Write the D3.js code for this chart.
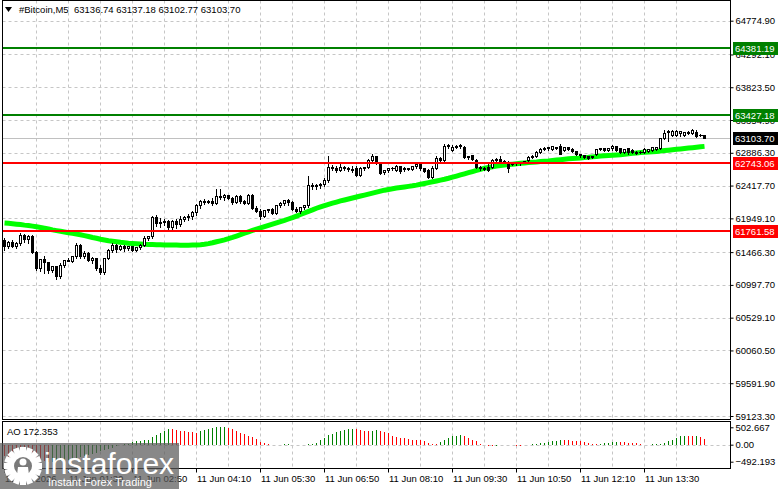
<!DOCTYPE html>
<html lang='en'>
<head>
	<meta charset='utf-8'>
	<script src='https://d3js.org/d3.v7.min.js'></script>
	<style>
		body {
			margin: 0;
			background: #fff;
		}

		svg {
			display: block;
			font-family: 'Liberation Sans', Arial, sans-serif;
		}
	</style>
</head>
<body>
	<svg id='chart' width='781' height='489'></svg>

	<script>
		// #Bitcoin M5 candles, 176 bars from 00:10
		var opens = [
			61639, 61554, 61611, 61554, 61596, 61711, 61653, 61696, 61468, 61239,
			61368, 61325, 61210, 61268, 61125, 61282, 61353, 61339, 61411, 61568,
			61411, 61453, 61353, 61382, 61239, 61182, 61382, 61496, 61568, 61511,
			61554, 61525, 61554, 61496, 61539, 61568, 61668, 61696, 61968, 61882,
			61897, 61911, 61825, 61911, 61868, 61940, 61968, 61982, 62040, 62140,
			62197, 62183, 62197, 62168, 62268, 62254, 62283, 62240, 62183, 62268,
			62197, 62168, 62283, 62097, 62054, 61982, 62068, 62083, 62025, 62140,
			62168, 62211, 62183, 62083, 62054, 62111, 62140, 62426, 62411, 62426,
			62440, 62497, 62683, 62669, 62640, 62683, 62669, 62655, 62669, 62569,
			62669, 62683, 62783, 62840, 62740, 62612, 62640, 62669, 62640, 62698,
			62655, 62669, 62655, 62698, 62726, 62669, 62640, 62540, 62669, 62812,
			62783, 62983, 62926, 62969, 62983, 62969, 62826, 62855, 62783, 62683,
			62669, 62683, 62683, 62783, 62797, 62769, 62740, 62740, 62740, 62740,
			62755, 62783, 62826, 62840, 62898, 62940, 62955, 62940, 62969, 62983,
			62926, 62969, 62940, 62912, 62869, 62855, 62840, 62826, 62869, 62940,
			62955, 62926, 62955, 62983, 62955, 62898, 62955, 62926, 62898, 62898,
			62898, 62912, 62926, 62940, 62955, 63098, 63183, 63141, 63141, 63169,
			63141, 63183, 63169, 63183, 63141, 63136.74
		];
		var highs = [
			61682, 61639, 61653, 61625, 61754, 61739, 61725, 61725, 61496, 61368,
			61425, 61325, 61268, 61282, 61325, 61353, 61396, 61411, 61611, 61596,
			61496, 61482, 61411, 61396, 61296, 61396, 61525, 61611, 61596, 61582,
			61582, 61568, 61568, 61554, 61596, 61711, 61696, 61997, 62011, 61968,
			61954, 61940, 61940, 61954, 61997, 61997, 62025, 62068, 62168, 62225,
			62240, 62225, 62254, 62383, 62383, 62311, 62297, 62268, 62297, 62297,
			62225, 62311, 62311, 62140, 62097, 62068, 62097, 62111, 62140, 62197,
			62225, 62240, 62211, 62125, 62125, 62154, 62569, 62469, 62454, 62469,
			62540, 62855, 62726, 62712, 62755, 62712, 62698, 62712, 62712, 62698,
			62698, 62812, 62883, 62855, 62755, 62655, 62683, 62698, 62726, 62712,
			62698, 62683, 62712, 62740, 62740, 62683, 62669, 62712, 62855, 62840,
			63026, 63026, 63012, 63012, 63026, 62998, 62855, 62869, 62812, 62712,
			62698, 62740, 62812, 62826, 62855, 62797, 62783, 62769, 62755, 62769,
			62783, 62855, 62869, 62926, 62969, 62983, 62983, 62998, 62983, 63026,
			62983, 62983, 62969, 62926, 62883, 62869, 62855, 62855, 62955, 62969,
			62969, 62969, 63012, 62998, 62969, 62955, 62969, 62955, 62926, 62926,
			62969, 62955, 62983, 62983, 63112, 63226, 63226, 63226, 63226, 63212,
			63198, 63212, 63240, 63226, 63169, 63137.18
		];
		var lows = [
			61496, 61525, 61539, 61525, 61568, 61611, 61596, 61453, 61210, 61196,
			61167, 61167, 61182, 61082, 61096, 61253, 61339, 61325, 61382, 61382,
			61382, 61339, 61310, 61210, 61153, 61153, 61368, 61468, 61468, 61496,
			61482, 61496, 61482, 61482, 61511, 61554, 61639, 61668, 61839, 61825,
			61854, 61782, 61796, 61811, 61839, 61911, 61925, 61940, 61997, 62097,
			62154, 62168, 62140, 62154, 62225, 62211, 62225, 62154, 62168, 62168,
			62154, 62154, 62083, 62040, 61940, 61968, 62040, 62011, 62011, 62111,
			62140, 62140, 62068, 62040, 62025, 62083, 62111, 62369, 62369, 62383,
			62411, 62469, 62640, 62612, 62626, 62640, 62626, 62612, 62554, 62554,
			62640, 62669, 62769, 62726, 62583, 62583, 62612, 62640, 62626, 62597,
			62626, 62640, 62640, 62669, 62640, 62612, 62526, 62526, 62655, 62755,
			62769, 62955, 62912, 62955, 62955, 62812, 62797, 62783, 62669, 62640,
			62640, 62626, 62669, 62755, 62740, 62740, 62612, 62712, 62712, 62712,
			62740, 62769, 62812, 62826, 62883, 62926, 62926, 62926, 62940, 62869,
			62912, 62926, 62898, 62855, 62826, 62812, 62797, 62812, 62855, 62926,
			62912, 62912, 62926, 62912, 62883, 62883, 62869, 62883, 62869, 62883,
			62883, 62898, 62912, 62926, 62940, 63083, 63055, 63126, 63126, 63126,
			63126, 63155, 63155, 63112, 63126, 63102.77
		];
		var closes = [
			61554, 61611, 61554, 61596, 61711, 61653, 61696, 61468, 61239, 61368,
			61325, 61210, 61268, 61125, 61282, 61353, 61339, 61411, 61568, 61411,
			61453, 61353, 61382, 61239, 61182, 61382, 61496, 61568, 61511, 61554,
			61525, 61554, 61496, 61539, 61568, 61668, 61696, 61968, 61882, 61897,
			61911, 61825, 61911, 61868, 61940, 61968, 61982, 62040, 62140, 62197,
			62183, 62197, 62168, 62268, 62254, 62283, 62240, 62183, 62268, 62197,
			62168, 62283, 62097, 62054, 61982, 62068, 62083, 62025, 62140, 62168,
			62211, 62183, 62083, 62054, 62111, 62140, 62426, 62411, 62426, 62440,
			62497, 62683, 62669, 62640, 62683, 62669, 62655, 62640, 62569, 62669,
			62683, 62783, 62840, 62740, 62597, 62640, 62669, 62669, 62698, 62626,
			62669, 62655, 62698, 62726, 62669, 62626, 62540, 62669, 62812, 62783,
			62983, 62998, 62969, 62983, 62998, 62826, 62840, 62797, 62683, 62669,
			62655, 62640, 62783, 62797, 62769, 62755, 62669, 62726, 62740, 62755,
			62769, 62826, 62840, 62898, 62940, 62955, 62969, 62983, 62955, 62869,
			62969, 62940, 62912, 62869, 62855, 62826, 62812, 62840, 62940, 62955,
			62926, 62955, 62983, 62926, 62898, 62940, 62898, 62898, 62883, 62898,
			62940, 62940, 62969, 62969, 63098, 63169, 63198, 63198, 63198, 63198,
			63183, 63169, 63212, 63126, 63141, 63103.70
		];

		// moving average (lime line)
		var maValues = [
			61882, 61878, 61872, 61866, 61860, 61852, 61846, 61838, 61828, 61818,
			61808, 61796, 61784, 61774, 61764, 61754, 61744, 61734, 61724, 61714,
			61702, 61690, 61676, 61664, 61650, 61640, 61630, 61622, 61614, 61606,
			61600, 61594, 61590, 61586, 61582, 61578, 61576, 61574, 61572, 61570,
			61568, 61568, 61567, 61567, 61566, 61566, 61566, 61567, 61568, 61572,
			61578, 61588, 61600, 61614, 61628, 61642, 61658, 61676, 61696, 61716,
			61736, 61756, 61776, 61794, 61812, 61830, 61848, 61866, 61884, 61902,
			61920, 61940, 61960, 61982, 62004, 62026, 62048, 62070, 62094, 62114,
			62132, 62150, 62166, 62182, 62198, 62212, 62226, 62240, 62254, 62268,
			62282, 62296, 62310, 62324, 62338, 62352, 62362, 62372, 62382, 62390,
			62398, 62406, 62414, 62424, 62436, 62448, 62460, 62472, 62484, 62496,
			62508, 62522, 62538, 62554, 62570, 62586, 62602, 62618, 62634, 62650,
			62666, 62676, 62686, 62696, 62704, 62712, 62718, 62724, 62730, 62736,
			62742, 62748, 62752, 62756, 62762, 62766, 62770, 62776, 62782, 62788,
			62794, 62800, 62804, 62808, 62812, 62818, 62822, 62828, 62834, 62840,
			62844, 62848, 62852, 62856, 62860, 62866, 62872, 62878, 62884, 62890,
			62894, 62898, 62902, 62906, 62912, 62918, 62924, 62930, 62936, 62942,
			62948, 62954, 62960, 62966, 62972, 62978
		];

		// Awesome Oscillator
		var aoValues = [
			-330, -350, -370, -385, -400, -415, -430, -445, -460, -472,
			-484, -492.193, -488, -478, -465, -448, -430, -408, -385, -360,
			-332, -300, -268, -232, -196, -158, -120, -82, -45, -10,
			28, 32, 65, 95, 98, 125, 145, 235, 285, 350,
			410, 460, 440, 420, 400, 385, 372, 360, 352, 385,
			425, 462, 490, 498, 500, 502.667, 495, 460, 410, 350,
			305, 265, 225, 150, 85, 40, 18, 5, -8, -4,
			6, 10, 4, -4, -6, 2, 8, 22, 60, 130,
			205, 268, 312, 365, 398, 420, 442, 462, 450, 430,
			405, 385, 400, 415, 398, 379, 331, 237, 218, 189,
			185, 161, 142, 140, 123, 95, 47, 28, 25, 66,
			123, 189, 237, 256, 284, 237, 189, 123, 95, 28,
			5, -25, -40, -25, -10, -2, -15, -20, -30, -35,
			-20, -10, 10, 25, 40, 50, 80, 100, 120, 140,
			135, 125, 115, 110, 100, 80, 50, 30, 25, 30,
			45, 60, 80, 90, 80, 70, 60, 45, 35, 15,
			5, -5, 10, 20, 30, 60, 100, 130, 190, 240,
			245, 240, 238, 242, 225, 172.353
		];

		var priceTicks = [64774.90, 64292.10, 63823.50, 63354.90, 62886.30, 62417.70, 61949.10,
			61466.30, 60997.70, 60529.10, 60060.50, 59591.90, 59123.30];
		var aoTicks = [502.667, 0, -492.193];
		var timeLabels = ['11 Jun 2026', '11 Jun 01:30', '11 Jun 02:50', '11 Jun 04:10', '11 Jun 05:30',
			'11 Jun 06:50', '11 Jun 08:10', '11 Jun 09:30', '11 Jun 10:50', '11 Jun 12:10', '11 Jun 13:30'];
		var timeLabelBars = [0, 16, 32, 48, 64, 80, 96, 112, 128, 144, 160];

		var resistance = [64381.19, 63427.18];
		var support = [62743.06, 61761.58];
		var lastPrice = 63103.70;
		var symbol = '#Bitcoin,M5';

		var svg = d3.select('#chart');

		var left = 2.5, right = 730.5;
		var mainTop = 0.5, mainBottom = 419.5;
		var aoTop = 421.5, aoBottom = 468.5;

		var x = d3.scaleLinear().domain([0, 175]).range([4.5, 704.5]);
		var y = d3.scaleLinear().domain([59123.3, 64774.9]).range([416, 20.7]);
		var yAo = d3.scaleLinear().domain([-492.193, 502.667]).range([461.7, 427.3]);

		function py(v) {
			return Math.round(y(v)) + 0.5;
		}

		var gridColor = '#c6c6c6';

		// grid
		var grid = svg.append('g');
		grid.selectAll('.hgrid')
			.data(priceTicks)
			.enter()
			.append('line')
			.attr('x1', left).attr('x2', right)
			.attr('y1', d => py(d)).attr('y2', d => py(d))
			.attr('stroke', gridColor)
			.attr('stroke-dasharray', '3,3');

		var vBars = d3.range(8, 176, 8);
		grid.selectAll('.vgrid')
			.data(vBars)
			.enter()
			.append('line')
			.attr('x1', d => x(d)).attr('x2', d => x(d))
			.attr('y1', mainTop).attr('y2', mainBottom)
			.attr('stroke', gridColor)
			.attr('stroke-dasharray', '3,3');

		grid.selectAll('.vgridAo')
			.data(vBars)
			.enter()
			.append('line')
			.attr('x1', d => x(d)).attr('x2', d => x(d))
			.attr('y1', aoTop).attr('y2', aoBottom)
			.attr('stroke', gridColor)
			.attr('stroke-dasharray', '3,3');

		grid.append('line')
			.attr('x1', left).attr('x2', right)
			.attr('y1', Math.round(yAo(0)) + 0.5).attr('y2', Math.round(yAo(0)) + 0.5)
			.attr('stroke', gridColor)
			.attr('stroke-dasharray', '3,3');

		// current price line
		svg.append('line')
			.attr('x1', left).attr('x2', right)
			.attr('y1', py(lastPrice)).attr('y2', py(lastPrice))
			.attr('stroke', '#c0c0c0');

		// moving average
		var maLine = d3.line()
			.x((d, i) => x(i))
			.y(d => y(d));

		svg.append('path')
			.datum(maValues)
			.attr('d', maLine)
			.attr('fill', 'none')
			.attr('stroke', '#00ff00')
			.attr('stroke-width', 5);

		// candles
		var bars = d3.range(opens.length);
		var candles = svg.append('g').attr('shape-rendering', 'crispEdges');

		candles.selectAll('.wick')
			.data(bars)
			.enter()
			.append('line')
			.attr('x1', i => x(i)).attr('x2', i => x(i))
			.attr('y1', i => py(highs[i])).attr('y2', i => py(lows[i]) + 0.5)
			.attr('stroke', '#000');

		bars.forEach(function(i) {
			var o = py(opens[i]), c = py(closes[i]);
			if (o == c) {
				candles.append('line')
					.attr('x1', x(i) - 2).attr('x2', x(i) + 2)
					.attr('y1', o).attr('y2', o)
					.attr('stroke', '#000');
			} else if (closes[i] > opens[i]) {
				candles.append('rect')
					.attr('x', x(i) - 1).attr('y', c)
					.attr('width', 2).attr('height', o - c)
					.attr('fill', '#fff')
					.attr('stroke', '#000');
			} else {
				candles.append('rect')
					.attr('x', x(i) - 1.5).attr('y', o - 0.5)
					.attr('width', 3).attr('height', c - o + 1)
					.attr('fill', '#000');
			}
		});

		// level lines
		svg.selectAll('.res')
			.data(resistance)
			.enter()
			.append('line')
			.attr('x1', left).attr('x2', right)
			.attr('y1', d => Math.round(y(d))).attr('y2', d => Math.round(y(d)))
			.attr('stroke', '#008000')
			.attr('stroke-width', 2);

		svg.selectAll('.sup')
			.data(support)
			.enter()
			.append('line')
			.attr('x1', left).attr('x2', right)
			.attr('y1', d => Math.round(y(d))).attr('y2', d => Math.round(y(d)))
			.attr('stroke', '#ff0000')
			.attr('stroke-width', 2);

		// AO histogram
		svg.append('g')
			.selectAll('line')
			.data(aoValues)
			.enter()
			.append('line')
			.attr('x1', (d, i) => x(i)).attr('x2', (d, i) => x(i))
			.attr('y1', Math.round(yAo(0)))
			.attr('y2', d => Math.round(yAo(d)))
			.attr('stroke', (d, i) => i > 0 && d > aoValues[i - 1] ? '#008000' : '#ff0000')
			.attr('stroke-width', 1);

		// frames
		svg.append('rect')
			.attr('x', left).attr('y', mainTop)
			.attr('width', right - left).attr('height', mainBottom - mainTop)
			.attr('fill', 'none').attr('stroke', '#000');
		svg.append('rect')
			.attr('x', left).attr('y', aoTop)
			.attr('width', right - left).attr('height', aoBottom - aoTop)
			.attr('fill', 'none').attr('stroke', '#000');

		// price axis
		var yAxis = d3.axisRight(y)
			.tickValues(priceTicks)
			.tickFormat(d3.format('.2f'))
			.tickSize(3)
			.tickPadding(2)
			.tickSizeOuter(0);

		var gy = svg.append('g')
			.attr('transform', 'translate(' + right + ',0)')
			.call(yAxis);
		gy.select('.domain').remove();
		gy.selectAll('text')
			.attr('font-size', '9.5px')
			.attr('font-family', 'Liberation Sans, Arial, sans-serif')
			.attr('fill', '#000');

		var aoAxis = d3.axisRight(yAo)
			.tickValues(aoTicks)
			.tickFormat(d => d == 0 ? '0.00' : d3.format('.3f')(d))
			.tickSize(3)
			.tickPadding(2);

		var ga = svg.append('g')
			.attr('transform', 'translate(' + right + ',0)')
			.call(aoAxis);
		ga.select('.domain').remove();
		ga.selectAll('text')
			.attr('font-size', '9.5px')
			.attr('font-family', 'Liberation Sans, Arial, sans-serif')
			.attr('fill', '#000');

		// price tags on the right scale
		function tag(value, color) {
			var cy = Math.round(y(value));
			svg.append('rect')
				.attr('x', 733).attr('y', cy - 6)
				.attr('width', 45).attr('height', 13)
				.attr('fill', color);
			svg.append('text')
				.attr('x', 735).attr('y', cy + 4)
				.attr('font-size', '9.5px')
				.attr('fill', '#fff')
				.text(d3.format('.2f')(value));
		}
		resistance.forEach(d => tag(d, '#008000'));
		support.forEach(d => tag(d, '#ff0000'));
		tag(lastPrice, '#000');

		// time axis
		var tx = svg.append('g');
		tx.selectAll('line')
			.data(timeLabelBars)
			.enter()
			.append('line')
			.attr('x1', d => x(d)).attr('x2', d => x(d))
			.attr('y1', aoBottom).attr('y2', aoBottom + 4)
			.attr('stroke', '#000');
		tx.selectAll('text')
			.data(timeLabels)
			.enter()
			.append('text')
			.attr('x', (d, i) => x(timeLabelBars[i]) + 0.5)
			.attr('y', 482)
			.attr('font-size', '9.5px')
			.attr('fill', '#000')
			.text(d => d);

		// header
		svg.append('path')
			.attr('d', 'M5,7 L12,7 L8.5,12 Z')
			.attr('fill', '#000');
		svg.append('text')
			.attr('x', 19).attr('y', 13)
			.attr('font-size', '9.5px')
			.attr('fill', '#000')
			.text(symbol);
		svg.append('text')
			.attr('x', 74).attr('y', 13)
			.attr('font-size', '9.5px')
			.attr('fill', '#000')
			.text([opens[175], highs[175], lows[175], closes[175]].map(d3.format('.2f')).join(' '));

		svg.append('text')
			.attr('x', 7).attr('y', 435)
			.attr('font-size', '9.5px')
			.attr('fill', '#000')
			.text('AO ' + d3.format('.3f')(aoValues[175]));

		// watermark
		var wm = svg.append('g');
		wm.append('rect')
			.attr('x', 0).attr('y', 443)
			.attr('width', 179).attr('height', 46)
			.attr('fill', '#5a5a5a')
			.attr('opacity', 0.72);

		var gear = wm.append('g').attr('transform', 'translate(23,466)');
		gear.selectAll('rect')
			.data(d3.range(8))
			.enter()
			.append('rect')
			.attr('x', -3).attr('y', -19)
			.attr('width', 6).attr('height', 38)
			.attr('fill', '#fff')
			.attr('transform', d => 'rotate(' + d * 22.5 + ')');
		gear.append('circle').attr('r', 15).attr('fill', '#fff');
		gear.append('circle').attr('r', 9).attr('fill', '#7a7a7a');
		gear.append('circle').attr('cy', -4).attr('r', 3.5).attr('fill', '#fff');
		gear.append('path')
			.attr('d', 'M-6,9 L-5,1 L5,1 L6,9 Z')
			.attr('fill', '#fff');

		wm.append('text')
			.attr('x', 44).attr('y', 474)
			.attr('font-size', '30px')
			.attr('fill', '#fff')
			.text('instaforex');
		wm.append('text')
			.attr('x', 48).attr('y', 486)
			.attr('font-size', '11px')
			.attr('fill', '#fff')
			.text('Instant Forex Trading');
	</script>
</body>
</html>
